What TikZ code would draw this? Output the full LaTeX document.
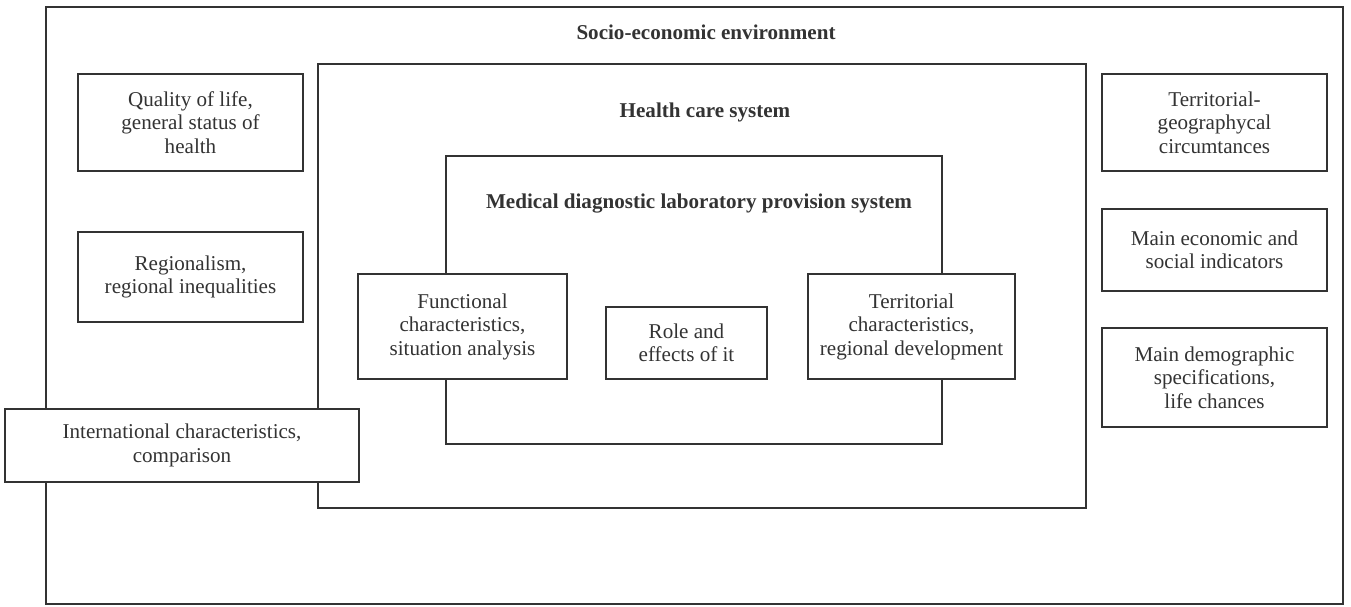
\documentclass[tikz,border=0pt]{standalone}
\usepackage{fontspec}
\setmainfont{Liberation Serif}
\usepackage{xcolor}
\usepackage{tikz}
\usetikzlibrary{positioning}

\begin{document}
\begin{tikzpicture}[
    x=0.02cm, y=-0.02cm,
    frame/.style={draw=black!80, line width=1pt, inner sep=0pt},
    box/.style={draw=black!80, fill=white, line width=1pt, align=center, inner sep=2pt,
        font=\fontsize{12}{13.4}\selectfont, text=black!80},
    title/.style={font=\fontsize{12}{13.4}\selectfont\bfseries, text=black!80},
]
\useasboundingbox (0,0) rectangle (1351,606);

% nested systems
\node[frame, minimum width=25.94cm, minimum height=11.94cm] (env) at (694.5,305.5) {};
\node[frame, minimum width=15.36cm, minimum height=8.88cm] (hcs) at (702,286) {};
\node[frame, minimum width=9.92cm, minimum height=5.76cm] (mdl) at (694,300) {};

\node[title] (envtitle) at (706,32) {Socio-economic environment};
\node[title] (hcstitle) at (705,112) {Health care system};
\node[title] (mdltitle) at (699,204) {Medical diagnostic laboratory provision system};

% inside the laboratory system
\node[box, minimum width=4.18cm, minimum height=2.1cm] (func) at (462.5,326.5)
    {Functional\\characteristics,\\situation analysis};
\node[box, minimum width=3.22cm, minimum height=1.44cm] (role) at (686.5,343)
    {Role and\\effects of it};
\node[box, minimum width=4.14cm, minimum height=2.1cm] (terr) at (911.5,326.5)
    {Territorial\\characteristics,\\regional development};

% left column
\node[box, minimum width=4.5cm, minimum height=1.94cm] (qol) at (190.5,122.5)
    {Quality of life,\\general status of\\health};
\node[box, minimum width=4.5cm, minimum height=1.8cm] (reg) at (190.5,277)
    {Regionalism,\\regional inequalities};
\node[box, minimum width=7.08cm, minimum height=1.46cm] (intl) at (182,445.5)
    {International characteristics,\\comparison};

% right column
\node[box, minimum width=4.5cm, minimum height=1.94cm] (geo) at (1214.5,122.5)
    {Territorial-\\geographycal\\circumtances};
\node[box, minimum width=4.5cm, minimum height=1.64cm] (econ) at (1214.5,250)
    {Main economic and\\social indicators};
\node[box, minimum width=4.5cm, minimum height=1.98cm] (demo) at (1214.5,377.5)
    {Main demographic\\specifications,\\life chances};

\end{tikzpicture}
\end{document}
